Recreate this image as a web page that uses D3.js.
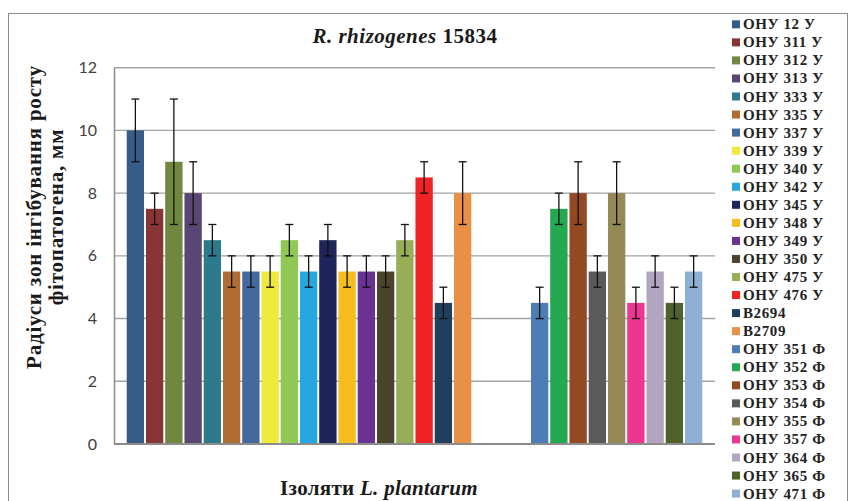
<!DOCTYPE html>
<html>
<head>
<meta charset="utf-8">
<script src="https://cdn.jsdelivr.net/npm/d3@7"></script>
<style>
  html, body { margin: 0; padding: 0; background: #fff; }
  svg { display: block; }
</style>
</head>
<body>
<svg id="chart" width="849" height="501"></svg>
<script>
// Isolates (У = group 1, Ф = group 2)
const isolates = [
  "ОНУ 12 У", "ОНУ 311 У", "ОНУ 312 У", "ОНУ 313 У", "ОНУ 333 У", "ОНУ 335 У",
  "ОНУ 337 У", "ОНУ 339 У", "ОНУ 340 У", "ОНУ 342 У", "ОНУ 345 У", "ОНУ 348 У",
  "ОНУ 349 У", "ОНУ 350 У", "ОНУ 475 У", "ОНУ 476 У", "B2694", "B2709",
  "ОНУ 351 Ф", "ОНУ 352 Ф", "ОНУ 353 Ф", "ОНУ 354 Ф", "ОНУ 355 Ф", "ОНУ 357 Ф",
  "ОНУ 364 Ф", "ОНУ 365 Ф", "ОНУ 471 Ф"
];
// Inhibition zone radius, mm
const radii = [
  10, 7.5, 9, 8, 6.5, 5.5,
  5.5, 5.5, 6.5, 5.5, 6.5, 5.5,
  5.5, 5.5, 6.5, 8.5, 4.5, 8,
  4.5, 7.5, 8, 5.5, 8, 4.5,
  5.5, 4.5, 5.5
];
// Error (± mm)
const errors = [
  1, 0.5, 2, 1, 0.5, 0.5,
  0.5, 0.5, 0.5, 0.5, 0.5, 0.5,
  0.5, 0.5, 0.5, 0.5, 0.5, 1,
  0.5, 0.5, 1, 0.5, 1, 0.5,
  0.5, 0.5, 0.5
];
const colors = [
  "#365c88", "#8a3535", "#71873f", "#594674", "#2c7a8c", "#b06d33",
  "#436a9c", "#eee93d", "#8fc854", "#27a7df", "#1f255a", "#f6bd1e",
  "#6a3393", "#4a442b", "#96ae57", "#ee2324", "#1f3f5f", "#e79046",
  "#4e7db5", "#24a852", "#934a22", "#5a5a5a", "#958955", "#ec3690",
  "#b1a5c1", "#50612e", "#8fb0d5"
];
const yTicks = [0, 2, 4, 6, 8, 10, 12];
const firstGroupSize = 18;
const blankSlots = ["_blank1", "_blank2", "_blank3"];

const data = isolates.map((name, i) => ({
  name, value: radii[i], err: errors[i], color: colors[i]
}));

const svg = d3.select("#chart");
const serif = "'Liberation Serif', 'Times New Roman', serif";

// outer chart frame
svg.append("rect")
  .attr("x", 8.5).attr("y", 13.5)
  .attr("width", 839).attr("height", 600)
  .attr("fill", "#fff")
  .attr("stroke", "#8c8c8c").attr("stroke-width", 1);

const plot = { left: 114, right: 715, top: 67.7, bottom: 444 };

const slotDomain = isolates.slice(0, firstGroupSize)
  .concat(blankSlots)
  .concat(isolates.slice(firstGroupSize));

const x = d3.scaleBand()
  .domain(slotDomain)
  .range([plot.left, plot.right])
  .paddingInner(0.1)
  .paddingOuter(0.66);

const y = d3.scaleLinear()
  .domain([0, 12])
  .range([plot.bottom, plot.top]);

// gridlines
svg.append("g")
  .selectAll("line")
  .data(yTicks.filter(t => t > 0))
  .join("line")
  .attr("x1", plot.left).attr("x2", plot.right)
  .attr("y1", d => y(d)).attr("y2", d => y(d))
  .attr("stroke", "#a3a3a3").attr("stroke-width", 1.4);

// y axis
const yAxis = d3.axisLeft(y).tickValues(yTicks).tickSize(0).tickPadding(17);
const gy = svg.append("g")
  .attr("transform", `translate(${plot.left},0)`)
  .call(yAxis);
gy.select(".domain").attr("stroke", "#8c8c8c").attr("stroke-width", 1.5);
gy.selectAll("text")
  .attr("font-family", "Lato, 'Open Sans', sans-serif")
  .attr("font-size", 16)
  .attr("fill", "#404040");

// bars
svg.append("g")
  .selectAll("rect")
  .data(data)
  .join("rect")
  .attr("x", d => x(d.name))
  .attr("width", x.bandwidth())
  .attr("y", d => y(d.value))
  .attr("height", d => y(0) - y(d.value))
  .attr("fill", d => d.color);

// x baseline
svg.append("line")
  .attr("x1", plot.left).attr("x2", plot.right)
  .attr("y1", y(0)).attr("y2", y(0))
  .attr("stroke", "#8c8c8c").attr("stroke-width", 1.8);

// error bars
const capHalf = 4;
const eb = svg.append("g")
  .selectAll("g")
  .data(data)
  .join("g")
  .attr("stroke", "#111").attr("stroke-width", 1.3);
eb.append("line")
  .attr("x1", d => x(d.name) + x.bandwidth() / 2)
  .attr("x2", d => x(d.name) + x.bandwidth() / 2)
  .attr("y1", d => y(d.value - d.err))
  .attr("y2", d => y(d.value + d.err));
eb.append("line")
  .attr("x1", d => x(d.name) + x.bandwidth() / 2 - capHalf)
  .attr("x2", d => x(d.name) + x.bandwidth() / 2 + capHalf)
  .attr("y1", d => y(d.value + d.err))
  .attr("y2", d => y(d.value + d.err));
eb.append("line")
  .attr("x1", d => x(d.name) + x.bandwidth() / 2 - capHalf)
  .attr("x2", d => x(d.name) + x.bandwidth() / 2 + capHalf)
  .attr("y1", d => y(d.value - d.err))
  .attr("y2", d => y(d.value - d.err));

// title
const title = svg.append("text")
  .attr("x", 405).attr("y", 43)
  .attr("text-anchor", "middle")
  .attr("font-family", serif)
  .attr("font-size", 21)
  .attr("letter-spacing", 0.5)
  .attr("font-weight", "bold")
  .attr("fill", "#1a1a1a");
title.append("tspan").attr("font-style", "italic").text("R. rhizogenes");
title.append("tspan").text(" 15834");

// x axis title
const xt = svg.append("text")
  .attr("x", 379).attr("y", 495)
  .attr("text-anchor", "middle")
  .attr("font-family", serif)
  .attr("font-size", 21)
  .attr("letter-spacing", 0.3)
  .attr("font-weight", "bold")
  .attr("fill", "#1a1a1a");
xt.append("tspan").text("Ізоляти ");
xt.append("tspan").attr("font-style", "italic").text("L. plantarum");

// y axis title (two lines)
const yt = svg.append("text")
  .attr("transform", "translate(0,217) rotate(-90)")
  .attr("text-anchor", "middle")
  .attr("font-family", serif)
  .attr("font-size", 21)
  .attr("letter-spacing", 0.8)
  .attr("font-weight", "bold")
  .attr("fill", "#1a1a1a");
yt.append("tspan").attr("x", 0).attr("y", 41).text("Радіуси зон інгібування росту");
yt.append("tspan").attr("x", 0).attr("y", 63).text("фітопатогена, мм");

// legend
const legStep = 18.05;
const leg = svg.append("g")
  .selectAll("g")
  .data(data)
  .join("g")
  .attr("transform", (d, i) => `translate(732,${24.3 + i * legStep})`);
leg.append("rect")
  .attr("x", 0).attr("y", -4)
  .attr("width", 8).attr("height", 8)
  .attr("fill", d => d.color);
leg.append("text")
  .attr("x", 11).attr("y", 5)
  .attr("font-family", serif)
  .attr("font-size", 15)
  .attr("letter-spacing", 0.6)
  .attr("font-weight", "bold")
  .attr("fill", "#222")
  .text(d => d.name);
</script>
</body>
</html>
